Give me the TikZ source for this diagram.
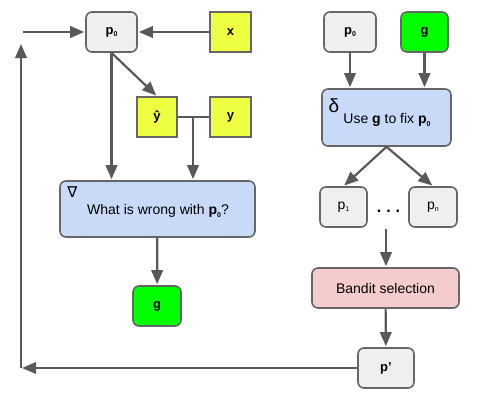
\documentclass[tikz,border=0pt]{standalone}
\usepackage{fontspec}
\setmainfont{Liberation Sans}
\newfontfamily\symfont{DejaVu Sans}
\usetikzlibrary{arrows.meta}
\definecolor{boxgray}{HTML}{EFEFEF}
\definecolor{ylw}{HTML}{EEFF41}
\definecolor{grn}{HTML}{00FF00}
\definecolor{lblue}{HTML}{C9DAF8}
\definecolor{lpink}{HTML}{F4CCCC}
\definecolor{linegray}{HTML}{595959}
\definecolor{bordergray}{HTML}{666666}
\newcommand{\idx}[1]{\raisebox{-2.5pt}{\fontsize{7}{7}\selectfont #1}}

\begin{document}
\begin{tikzpicture}[x=1pt, y=-1pt,
    arr/.style={-{Triangle[length=14pt,width=11.5pt]}, line width=2.2pt, draw=linegray, fill=linegray, shorten >=1pt},
    box/.style={draw=bordergray, line width=1.6pt, rounded corners=6pt, minimum height=40pt, inner sep=0pt, font=\fontsize{13}{13}\selectfont\bfseries},
    sqbox/.style={box, sharp corners, fill=ylw}]
    \useasboundingbox (0,0) rectangle (483,400);

    % 左侧：求梯度
    \node[box, fill=boxgray, minimum width=51pt] (p0L) at (111.5,32) {p\idx{0}};
    \node[sqbox, minimum width=41pt] (xin) at (230.5,32) {x};
    \node[sqbox, minimum width=40pt] (yhat) at (157,117) {ŷ};
    \node[sqbox, minimum width=41pt] (ytrue) at (230.5,117) {y};
    \node[box, fill=lblue, minimum width=195pt, minimum height=56pt] (grad) at (157.5,209) {};
    \node (gradsym) at (72.5,192) {\symfont\fontsize{15}{15}\selectfont ∇};
    \node (gradtxt) at (158,211) {\fontsize{14}{14}\selectfont What is wrong with \textbf{p\idx{0}}?};
    \node[box, fill=grn, minimum width=48pt] (gL) at (157,306) {g};

    \draw[arr] (xin) -- (p0L);
    \draw[arr] (p0L.south) -- (p0L.south |- grad.north);
    \draw[arr] (p0L.south) -- (yhat.north);
    \draw[line width=2.2pt, draw=linegray] (yhat) -- (ytrue);
    \coordinate (jn) at (193,117);
    \draw[arr] (jn) -- (jn |- grad.north);
    \draw[arr] (grad) -- (gL);

    % 右侧：修正与选择
    \node[box, fill=boxgray, minimum width=52pt] (p0R) at (350,32) {p\idx{0}};
    \node[box, fill=grn, minimum width=47pt] (gR) at (424.5,32) {g};
    \node[box, fill=lblue, minimum width=129pt, minimum height=57pt] (fix) at (386.5,117.5) {};
    \node (fixsym) at (334,106) {\fontsize{19}{19}\selectfont δ};
    \node (fixtxt) at (387,120) {\fontsize{14}{14}\selectfont Use \textbf{g} to fix \textbf{p\idx{0}}};
    \node[box, fill=boxgray, minimum width=47pt, font=\fontsize{14}{14}\selectfont] (p1) at (343.5,207) {p\idx{1}};
    \node[box, fill=boxgray, minimum width=48pt, font=\fontsize{14}{14}\selectfont] (pn) at (433,207) {p\idx{n}};
    \node[anchor=base] (dots) at (388.5,212) {\fontsize{16}{16}\selectfont\bfseries .\hspace{5pt}.\hspace{5pt}.};
    \node[box, fill=lpink, minimum width=147pt, font=\fontsize{14}{14}\selectfont] (bandit) at (385.5,288) {Bandit selection};
    \node[box, fill=boxgray, minimum width=56pt] (pp) at (386,368) {p’};

    \draw[arr] (p0R.south) -- (p0R.south |- fix.north);
    \draw[arr] (gR.south) -- (gR.south |- fix.north);
    \draw[arr] (fix.south) -- (p1.north);
    \draw[arr] (fix.south) -- (pn.north);
    \coordinate (sel) at (386,229);
    \draw[arr] (sel) -- (sel |- bandit.north);
    \draw[arr] (bandit) -- (pp);

    % 回路
    \coordinate (lb) at (21,368);
    \coordinate (lt) at (21,43);
    \coordinate (ls) at (23,32);
    \draw[arr] (pp) -- (lb);
    \draw[arr] (lb) -- (lt);
    \draw[arr] (ls) -- (p0L);
\end{tikzpicture}
\end{document}
